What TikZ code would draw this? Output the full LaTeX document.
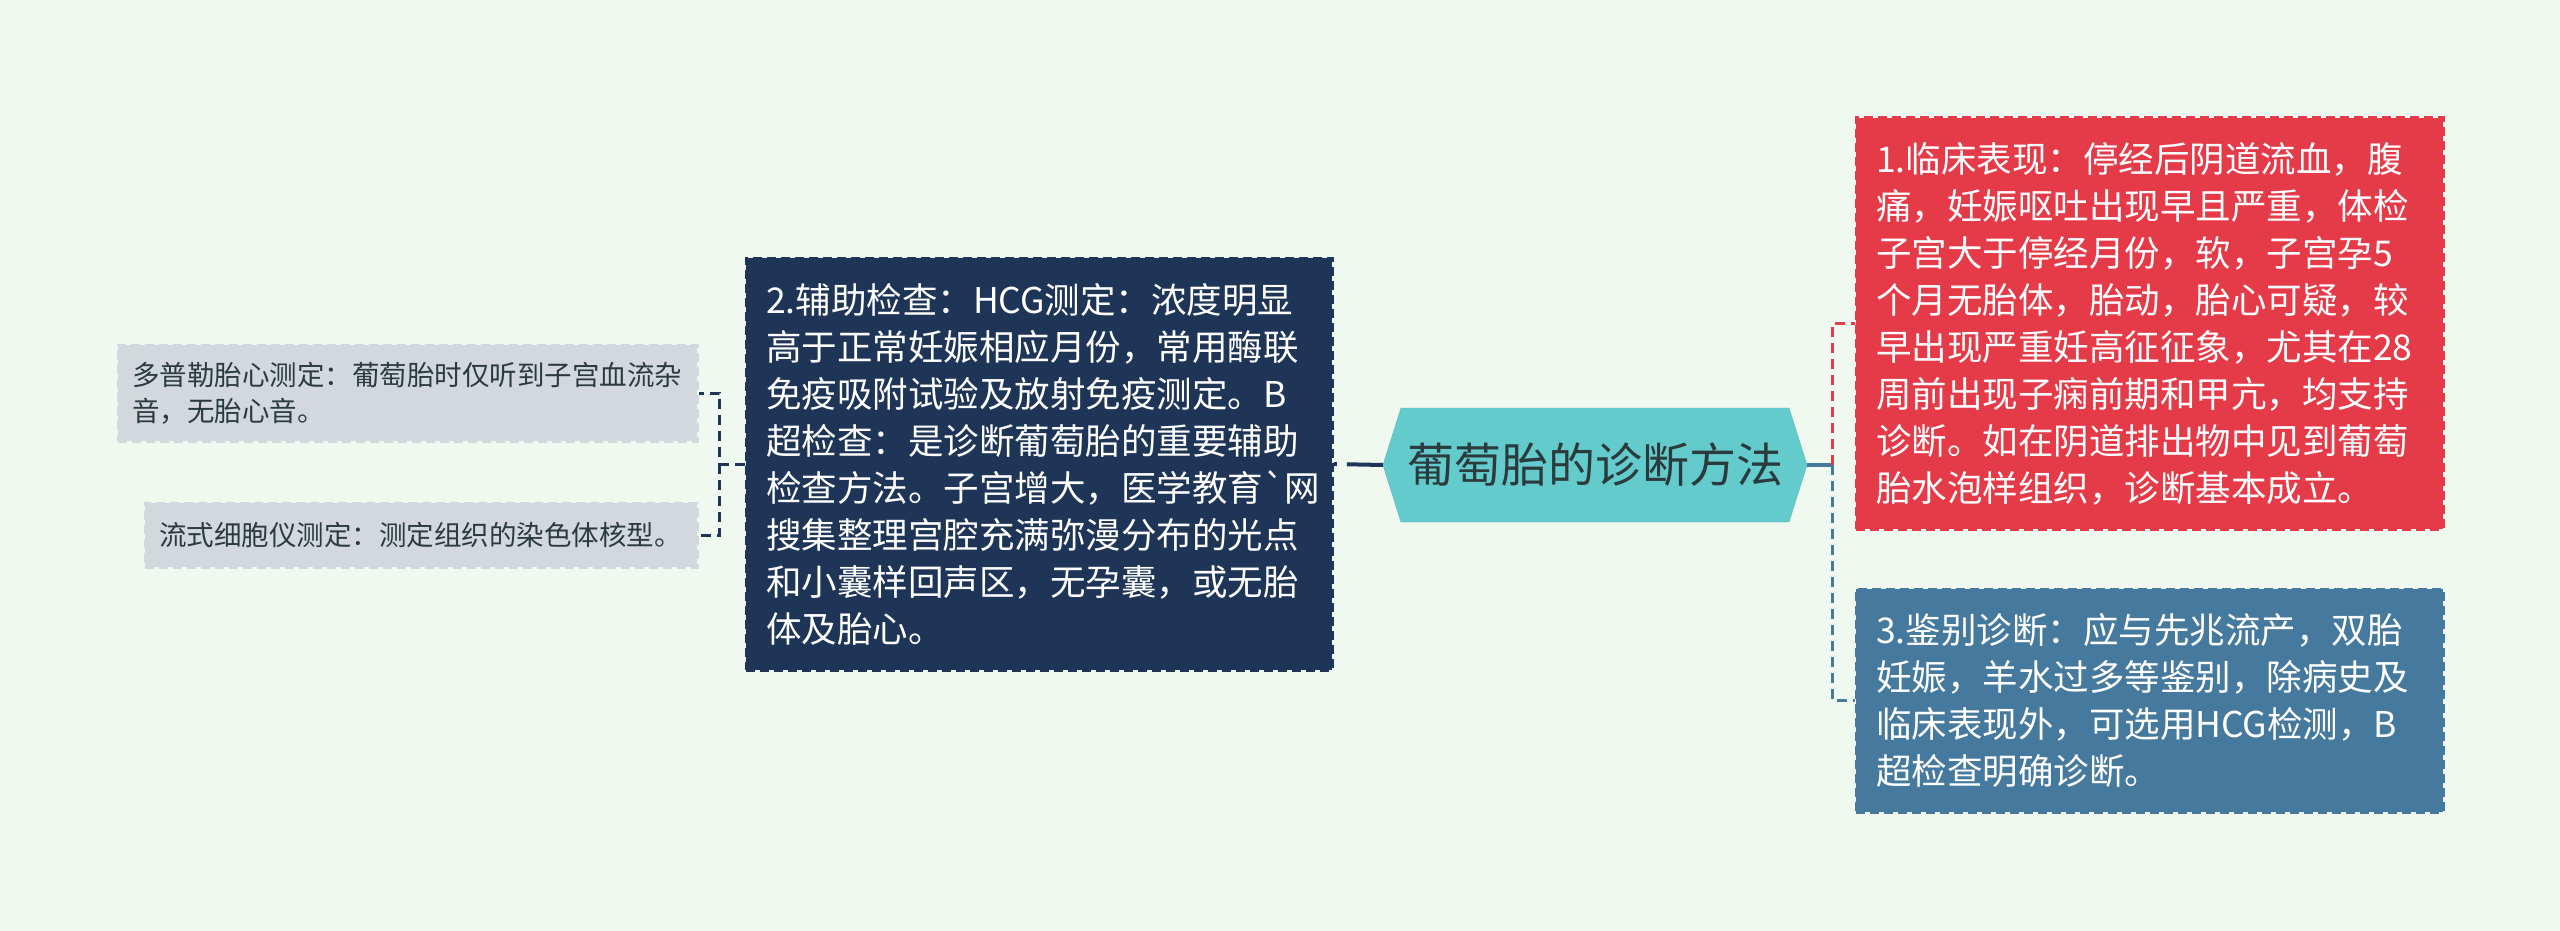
\documentclass[tikz,border=0pt]{standalone}
\usepackage{fontspec}
\usepackage{tikz}
\usetikzlibrary{shapes.symbols}
\newfontfamily\cjk{Noto Sans CJK SC}
\definecolor{fundo}{HTML}{F0F9EF}
\definecolor{turquesa}{HTML}{64CBCC}
\definecolor{marinho}{HTML}{1E3557}
\definecolor{vermelho}{HTML}{E53A48}
\definecolor{azul}{HTML}{45799D}
\definecolor{cinza}{HTML}{D3D8DE}
\definecolor{texto}{HTML}{2B3B3D}

\begin{document}
\begin{tikzpicture}[x=1pt, y=-1pt,
  caixa/.style={rectangle, inner xsep=20pt, inner ysep=0pt, align=left, text=white,
    line width=3pt, dash pattern=on 9pt off 5pt, font=\cjk\fontsize{35.5}{47}\selectfont},
  nota/.style={caixa, inner xsep=14pt, text=texto, draw=cinza, fill=cinza,
    font=\cjk\fontsize{27.5}{36}\selectfont},
  ramo/.style={line width=3pt, dash pattern=on 10pt off 6pt}]
  \fill[fundo] (0,0) rectangle (2560,931);
  \useasboundingbox (0,0) rectangle (2560,931);

  \node[signal, signal to=east and west, signal pointer angle=145, draw=turquesa!90!black,
    fill=turquesa, minimum width=424pt, minimum height=114pt, inner sep=0pt, text=texto,
    font=\cjk\fontsize{47}{55}\selectfont] (raiz) at (1595,465) {葡萄胎的诊断方法};

  \node[caixa, draw=marinho, fill=marinho, text width=546pt, minimum height=412pt] (exame) at (1039,464)
    {2.辅助检查：HCG测定：浓度明显\\高于正常妊娠相应月份，常用酶联\\免疫吸附试验及放射免疫测定。B\\超检查：是诊断葡萄胎的重要辅助\\检查方法。子宫增大，医学教育\textasciigrave 网\\搜集整理宫腔充满弥漫分布的光点\\和小囊样回声区，无孕囊，或无胎\\体及胎心。};
  \node[caixa, draw=vermelho, fill=vermelho, text width=547pt, minimum height=411pt] (clinica) at (2149.5,323.5)
    {1.临床表现：停经后阴道流血，腹\\痛，妊娠呕吐出现早且严重，体检\\子宫大于停经月份，软，子宫孕5\\个月无胎体，胎动，胎心可疑，较\\早出现严重妊高征征象，尤其在28\\周前出现子痫前期和甲亢，均支持\\诊断。如在阴道排出物中见到葡萄\\胎水泡样组织，诊断基本成立。};
  \node[caixa, draw=azul, fill=azul, text width=547pt, minimum height=223pt] (diferencial) at (2149.5,700.5)
    {3.鉴别诊断：应与先兆流产，双胎\\妊娠，羊水过多等鉴别，除病史及\\临床表现外，可选用HCG检测，B\\超检查明确诊断。};

  \node[nota, text width=551pt, minimum height=96pt] (doppler) at (407.5,393)
    {多普勒胎心测定：葡萄胎时仅听到子宫血流杂\\音，无胎心音。};
  \node[nota, text width=524pt, minimum height=64pt] (citometria) at (421,535)
    {流式细胞仪测定：测定组织的染色体核型。};

  % ligacoes
  \coordinate (garfo) at ([xshift=25pt]raiz.east);
  \coordinate (garfoesq) at ([xshift=-25pt]exame.west);
  \draw[line width=4pt, azul] (raiz.east) -- (garfo);
  \draw[ramo, vermelho] (garfo) |- (clinica.west);
  \draw[ramo, azul] (garfo) |- (diferencial.west);
  \draw[line width=4pt, marinho, dash pattern=on 36pt off 10pt] (raiz.west) -- (exame.east);
  \draw[ramo, marinho] (exame.west) -- (garfoesq) |- (doppler.east);
  \draw[ramo, marinho] (garfoesq) |- (citometria.east);

\end{tikzpicture}
\end{document}
